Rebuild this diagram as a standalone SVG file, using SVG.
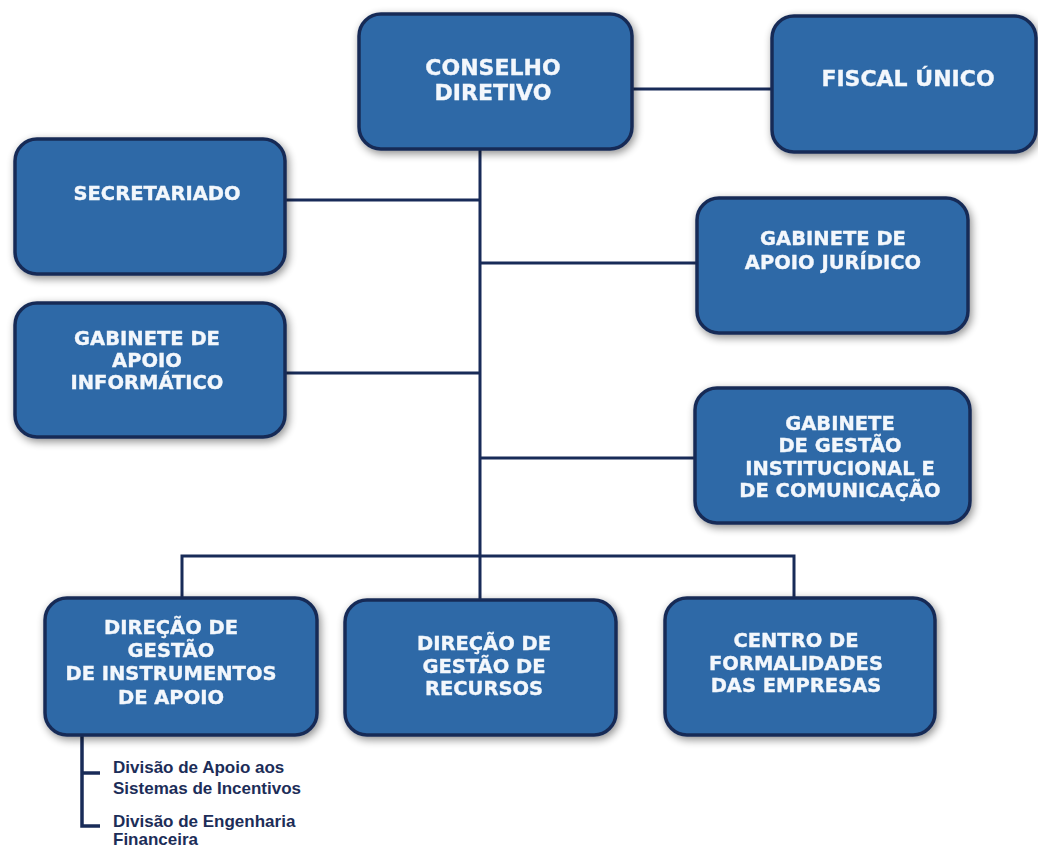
<svg xmlns="http://www.w3.org/2000/svg" width="1038" height="849" viewBox="0 0 1038 849">
<style>
.box{fill:#2e69a7;stroke:#172c57;stroke-width:3.5}
.t{font-family:"DejaVu Sans","Verdana",sans-serif;font-weight:bold;font-size:19.5px;fill:#f3f7fc;stroke:#f3f7fc;stroke-width:0.35;text-anchor:middle}
.tb{font-size:22px}
.c{fill:none;stroke:#182b58;stroke-width:3}
.d{font-family:"Liberation Sans",Arial,sans-serif;font-weight:bold;font-size:17px;fill:#1c2d58}
</style>
<defs>
<filter id="sh" x="-10%" y="-15%" width="120%" height="130%">
<feGaussianBlur in="SourceAlpha" stdDeviation="4" result="b"/>
<feOffset dx="2" dy="3" in="b" result="o"/>
<feComponentTransfer in="o" result="s"><feFuncA type="linear" slope="0.45"/></feComponentTransfer>
<feMerge><feMergeNode in="s"/><feMergeNode in="SourceGraphic"/></feMerge>
</filter>
</defs>
<rect width="1038" height="849" fill="#ffffff"/>
<g id="connectors">
<line class="c" x1="633" y1="89" x2="772" y2="89"/>
<line class="c" x1="480" y1="150" x2="480" y2="600"/>
<line class="c" x1="285" y1="200" x2="480" y2="200"/>
<line class="c" x1="480" y1="263" x2="697" y2="263"/>
<line class="c" x1="285" y1="373" x2="480" y2="373"/>
<line class="c" x1="480" y1="458" x2="695" y2="458"/>
<polyline class="c" points="182,598 182,556 794,556 794,598"/>
<polyline class="c" points="82,736 82,826 100,826" style="stroke-width:3.5"/>
<line class="c" x1="82" y1="773" x2="100" y2="773" style="stroke-width:3.5"/>
</g>
<g id="n-conselho" filter="url(#sh)">
<rect class="box" x="359" y="14" width="273" height="135" rx="22"/>
<text class="t tb" x="493" y="75">CONSELHO</text>
<text class="t tb" x="493" y="100">DIRETIVO</text>
</g>
<g id="n-fiscal" filter="url(#sh)">
<rect class="box" x="772" y="16" width="264" height="136" rx="22"/>
<text class="t tb" x="908" y="86">FISCAL ÚNICO</text>
</g>
<g id="n-secretariado" filter="url(#sh)">
<rect class="box" x="15" y="139" width="270" height="135" rx="22"/>
<text class="t" x="157" y="200">SECRETARIADO</text>
</g>
<g id="n-juridico" filter="url(#sh)">
<rect class="box" x="697" y="198" width="271" height="135" rx="22"/>
<text class="t" x="833" y="245">GABINETE DE</text>
<text class="t" x="833" y="269">APOIO JURÍDICO</text>
</g>
<g id="n-informatico" filter="url(#sh)">
<rect class="box" x="15" y="303" width="270" height="134" rx="22"/>
<text class="t" x="147" y="345">GABINETE DE</text>
<text class="t" x="147" y="367">APOIO</text>
<text class="t" x="147" y="389">INFORMÁTICO</text>
</g>
<g id="n-institucional" filter="url(#sh)">
<rect class="box" x="695" y="388" width="275" height="135" rx="22"/>
<text class="t" x="840" y="430">GABINETE</text>
<text class="t" x="840" y="452">DE GESTÃO</text>
<text class="t" x="840" y="475">INSTITUCIONAL E</text>
<text class="t" x="840" y="497">DE COMUNICAÇÃO</text>
</g>
<g id="n-instrumentos" filter="url(#sh)">
<rect class="box" x="45" y="598" width="272" height="137" rx="22"/>
<text class="t" x="171" y="634">DIREÇÃO DE</text>
<text class="t" x="171" y="657">GESTÃO</text>
<text class="t" x="171" y="680">DE INSTRUMENTOS</text>
<text class="t" x="171" y="704">DE APOIO</text>
</g>
<g id="n-recursos" filter="url(#sh)">
<rect class="box" x="345" y="600" width="271" height="135" rx="22"/>
<text class="t" x="484" y="650">DIREÇÃO DE</text>
<text class="t" x="484" y="673">GESTÃO DE</text>
<text class="t" x="484" y="695">RECURSOS</text>
</g>
<g id="n-centro" filter="url(#sh)">
<rect class="box" x="665" y="598" width="270" height="137" rx="22"/>
<text class="t" x="796" y="647">CENTRO DE</text>
<text class="t" x="796" y="670">FORMALIDADES</text>
<text class="t" x="796" y="692">DAS EMPRESAS</text>
</g>
<g id="n-divisoes">
<text class="d" x="113" y="773">Divisão de Apoio aos</text>
<text class="d" x="113" y="794">Sistemas de Incentivos</text>
<text class="d" x="113" y="827">Divisão de Engenharia</text>
<text class="d" x="113" y="845">Financeira</text>
</g>
</svg>
